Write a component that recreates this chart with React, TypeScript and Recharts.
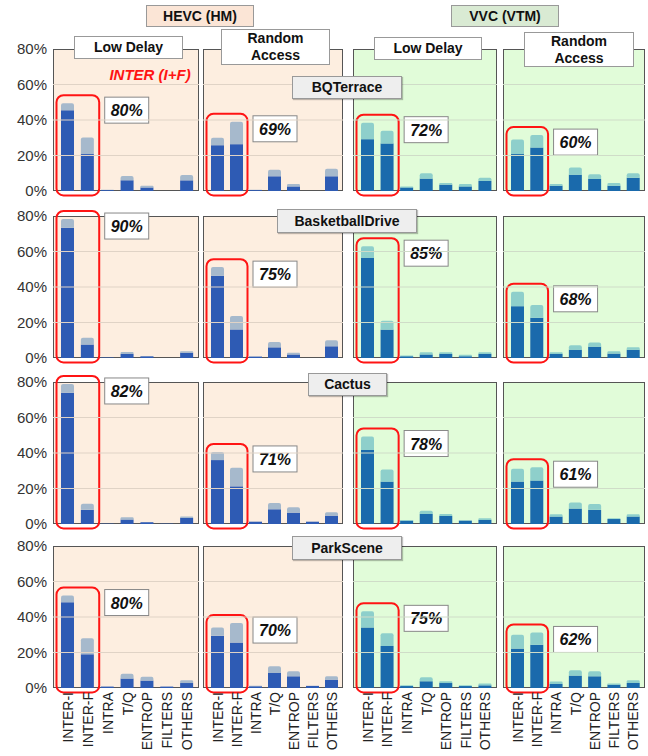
import { BarChart, Bar, XAxis, YAxis, ReferenceArea, ReferenceLine } from 'recharts'

const categories = ['INTER-I', 'INTER-F', 'INTRA', 'T/Q', 'ENTROP', 'FILTERS', 'OTHERS']
const yTicks = [0, 20, 40, 60, 80]
const gridValues = [20, 40, 60]
const sequences = ['BQTerrace', 'BasketballDrive', 'Cactus', 'ParkScene']

// per panel: HEVC LD, HEVC RA, VVC LD, VVC RA
const bqTerraceDark = [
  [45.5, 20.8, 0.5, 6, 2, 0, 6],
  [25.8, 26.4, 0.5, 8.3, 2.6, 0, 8.3],
  [29.2, 26.8, 2, 7, 3.6, 2.6, 5.7],
  [20.8, 24.5, 3, 9.2, 6.8, 3, 7.5],
]
const bqTerraceLight = [
  [4, 9.4, 0.2, 2.5, 1, 0, 3],
  [4.2, 12.6, 0.2, 3.7, 1.4, 0, 4.3],
  [9.3, 7.2, 0.6, 3, 0.9, 1.4, 1.8],
  [8.2, 7, 1, 4, 2.6, 1.5, 2.5],
]
const bqTerraceInter = ['80%', '69%', '72%', '60%']

const basketballDark = [
  [73.4, 7.6, 0.3, 2.3, 1, 0, 3],
  [46.4, 16.1, 0.8, 6, 2, 0, 6.6],
  [56.3, 16, 1, 2, 2.3, 1, 2.3],
  [29.2, 22.7, 2.3, 4.7, 6.4, 2.5, 4.7],
]
const basketballLight = [
  [4.9, 3.8, 0, 1.1, 0.1, 0, 0.8],
  [4.8, 7.6, 0.2, 3, 1, 0, 3.4],
  [6.7, 5, 0.4, 1.2, 0.9, 0.8, 0.9],
  [8.1, 7.1, 0.9, 2.5, 2.3, 1.3, 1.3],
]
const basketballInter = ['90%', '75%', '85%', '68%']

const cactusDark = [
  [73.9, 8, 0.2, 2.6, 1, 0.2, 3.4],
  [36, 21.2, 1.3, 8.3, 6.4, 1.3, 4.7],
  [41.7, 23.9, 1.9, 5.7, 4.5, 1.9, 2.3],
  [23.9, 24.5, 4.2, 8.7, 8, 2.8, 4.2],
]
const cactusLight = [
  [5, 3.4, 0, 1.2, 0, 0, 0.8],
  [4.6, 10.5, 0, 3.5, 3.1, 0, 1.9],
  [7.6, 6.8, 0.3, 1.7, 1.2, 0.1, 0.9],
  [7.2, 7.5, 1.3, 3.4, 3.2, 0.4, 1.3],
]
const cactusInter = ['82%', '71%', '78%', '61%']

const parkSceneDark = [
  [48.3, 19, 0.8, 5.3, 4.2, 0.8, 2.8],
  [29.4, 25.6, 1, 8.5, 6.6, 1.2, 4.7],
  [34.1, 23.7, 1.1, 3.8, 2.8, 1.1, 1.5],
  [22.2, 24.3, 2.3, 7, 6.6, 1.9, 2.8],
]
const parkSceneLight = [
  [3.8, 9, 0.1, 2.7, 2.1, 0, 1.6],
  [4.7, 11, 0.3, 3.8, 2.9, 0, 1.9],
  [9.1, 7.2, 0.4, 2.3, 1, 0.4, 1],
  [7.8, 7, 1.3, 3, 2.9, 0.6, 1.6],
]
const parkSceneInter = ['80%', '70%', '75%', '62%']

const rows = [
  { dark: bqTerraceDark, light: bqTerraceLight, inter: bqTerraceInter },
  { dark: basketballDark, light: basketballLight, inter: basketballInter },
  { dark: cactusDark, light: cactusLight, inter: cactusInter },
  { dark: parkSceneDark, light: parkSceneLight, inter: parkSceneInter },
]

const PANEL_X = [53, 203, 353, 503]
const PANEL_W = [146, 140, 144, 142]
const ROW_Y = [49, 216, 382, 546]
const PLOT_H = 142
const AXIS_W = 53
const FONT = "'Liberation Sans', Arial, sans-serif"

const TITLE_BOXES = [
  { left: 292, top: 76, width: 110, height: 23 },
  { left: 277, top: 209, width: 140, height: 24 },
  { left: 308, top: 373, width: 79, height: 23 },
  { left: 292, top: 536, width: 110, height: 24 },
]

function RotTick(props: any) {
  const { x, y, payload } = props
  return (
    <text x={x} y={y} transform={`rotate(-90 ${x} ${y})`} textAnchor="end" dominantBaseline="central" fontSize={14} fill="#222" fontFamily={FONT}>
      {payload.value}
    </text>
  )
}

function InterBox(props: any) {
  const { x, y, width, height, share } = props
  if (x == null || y == null) return null
  return (
    <g>
      <rect x={x - 1.5} y={y} width={width + 3} height={height} rx={7} fill="none" stroke="#ff1414" strokeWidth={2} />
      <rect x={x + width + 7} y={y + 2} width={44} height={26} fill="#fff" stroke="#888" strokeWidth={1} />
      <text x={x + width + 29} y={y + 15.5} textAnchor="middle" dominantBaseline="central" fontSize={16} fontWeight="bold" fontStyle="italic" fill="#111" fontFamily={FONT}>
        {share}
      </text>
    </g>
  )
}

function Panel({ row, col }: { row: number; col: number }) {
  const vvc = col >= 2
  const last = row === rows.length - 1
  const dark = rows[row].dark[col]
  const light = rows[row].light[col]
  const data = categories.map((name, i) => ({ name, dark: dark[i], light: light[i] }))
  const interMax = Math.max(dark[0] + light[0], dark[1] + light[1])
  const bottom = last ? 66 : 6
  return (
    <>
      <div
        style={{
          position: 'absolute',
          left: PANEL_X[col],
          top: ROW_Y[row],
          width: PANEL_W[col],
          height: PLOT_H,
          background: vvc ? '#e1fcd9' : '#fdeee0',
          border: '1.5px solid #555',
          boxSizing: 'border-box',
        }}
      />
      <div style={{ position: 'absolute', left: col === 0 ? 0 : PANEL_X[col], top: ROW_Y[row] }}>
        <BarChart
          width={PANEL_W[col] + (col === 0 ? AXIS_W : 0)}
          height={PLOT_H + bottom}
          data={data}
          margin={{ top: 0, right: 0, bottom: 6, left: 0 }}
          barSize={13}
        >
          <XAxis
            dataKey="name"
            hide={!last}
            height={60}
            interval={0}
            padding={{ left: 5, right: 2 }}
            axisLine={false}
            tickLine={false}
            tickSize={4}
            tickMargin={0}
            tick={<RotTick />}
          />
          {col === 0 ? (
            <YAxis
              width={AXIS_W}
              domain={[0, 80]}
              ticks={yTicks}
              interval={0}
              tickFormatter={(v) => `${v}%`}
              axisLine={false}
              tickLine={false}
              tickSize={4}
              tickMargin={2}
              tick={{ fontSize: 15, fill: '#333', fontFamily: FONT }}
            />
          ) : (
            <YAxis hide domain={[0, 80]} ticks={yTicks} />
          )}
          {gridValues.map((v) => (
            <ReferenceLine key={v} y={v} stroke={vvc ? '#cfdcc8' : '#e0d3c6'} strokeWidth={1} />
          ))}
          <Bar dataKey="dark" stackId="s" fill={vvc ? '#1a6aac' : '#2e5bb4'} isAnimationActive={false} />
          <Bar dataKey="light" stackId="s" fill={vvc ? '#8ecfcb' : '#a6b9cc'} radius={[2, 2, 0, 0]} isAnimationActive={false} />
          <ReferenceArea
            x1="INTER-I"
            x2="INTER-F"
            y1={-2.5}
            y2={interMax + 4.5}
            ifOverflow="visible"
            shape={(p: any) => <InterBox {...p} share={rows[row].inter[col]} />}
          />
        </BarChart>
      </div>
    </>
  )
}

const boxText = { fontWeight: 'bold' as const, fontSize: 14, color: '#111', display: 'flex', alignItems: 'center', justifyContent: 'center', textAlign: 'center' as const, boxSizing: 'border-box' as const, position: 'absolute' as const, lineHeight: '17px' }

export default function App() {
  return (
    <div style={{ position: 'absolute', left: 0, top: 0, width: 648, height: 756, background: '#fff', fontFamily: FONT, overflow: 'hidden' }}>
      <style>{'.recharts-surface{overflow:visible}'}</style>
      {rows.map((_, r) => [0, 1, 2, 3].map((c) => <Panel key={`${r}-${c}`} row={r} col={c} />))}

      <div style={{ ...boxText, left: 146, top: 5, width: 108, height: 22, background: '#fbe5d6', border: '1px solid #999' }}>HEVC (HM)</div>
      <div style={{ ...boxText, left: 451, top: 5, width: 108, height: 22, background: '#d9ead3', border: '1px solid #999' }}>VVC (VTM)</div>

      <div style={{ ...boxText, left: 74, top: 36, width: 109, height: 23, background: '#fff', border: '1px solid #999' }}>Low Delay</div>
      <div style={{ ...boxText, left: 221, top: 29, width: 109, height: 36, background: '#fff', border: '1px solid #999' }}>Random<br />Access</div>
      <div style={{ ...boxText, left: 374, top: 37, width: 108, height: 23, background: '#fff', border: '1px solid #999' }}>Low Delay</div>
      <div style={{ ...boxText, left: 524, top: 32, width: 110, height: 35, background: '#fff', border: '1px solid #999' }}>Random<br />Access</div>

      <div style={{ position: 'absolute', left: 104, top: 66, width: 92, textAlign: 'center', color: '#ff1414', fontWeight: 'bold', fontStyle: 'italic', fontSize: 15 }}>INTER (I+F)</div>

      {sequences.map((s, i) => (
        <div key={s} style={{ ...boxText, ...TITLE_BOXES[i], background: '#eeeeee', border: '1px solid #999', boxShadow: '1px 1px 1px rgba(0,0,0,0.25)' }}>
          {s}
        </div>
      ))}
    </div>
  )
}
